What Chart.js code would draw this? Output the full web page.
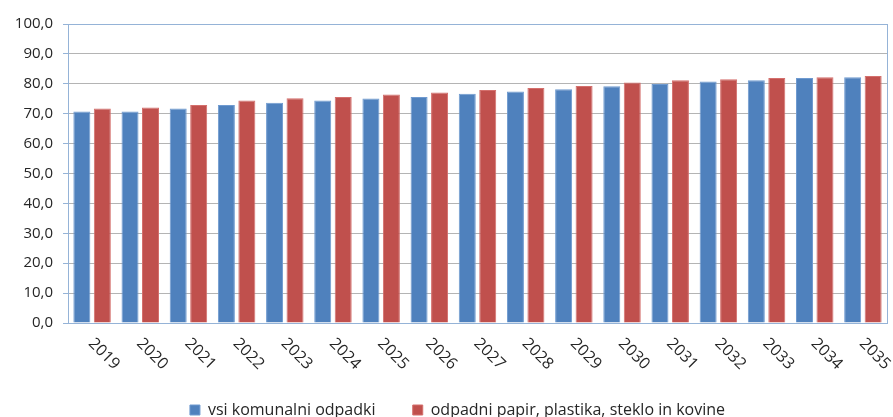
<!DOCTYPE html>
<html>
<head>
<meta charset="utf-8">
<script src="https://cdn.jsdelivr.net/npm/chart.js@4/dist/chart.umd.min.js"></script>
<style>
  html, body { margin: 0; padding: 0; background: #fff; }
  #wrap { width: 893px; height: 417px; }
</style>
</head>
<body>
<div id="wrap"><canvas id="wasteChart" width="893" height="417"></canvas></div>
<script>
const years = ['2019', '2020', '2021', '2022', '2023', '2024', '2025', '2026', '2027',
    '2028', '2029', '2030', '2031', '2032', '2033', '2034', '2035'];
const vsiKomunalni = [70.7, 70.7, 71.7, 72.9, 73.7, 74.4, 75.1, 75.6, 76.7,
    77.4, 78.2, 79.2, 79.9, 80.8, 81.2, 81.9, 82.2];
const papirPlastika = [71.7, 72.1, 72.9, 74.4, 75.2, 75.6, 76.4, 77.1, 77.9,
    78.6, 79.3, 80.4, 81.2, 81.5, 81.9, 82.2, 82.6];
const yTicks = [0, 10, 20, 30, 40, 50, 60, 70, 80, 90, 100];

const BLUE = '#4F81BD';
const RED = '#C0504D';
const FRAME = '#95B3D7';
const GRID = '#B4B4B4';
const FONT = "'Open Sans', sans-serif";

// x labels slant down to the right, which Chart.js can't do itself
const slantedLabels = {
    id: 'slantedLabels',
    afterLayout(chart) {
        // legend sits a little right of centre in the original
        chart.legend.left += 14;
        chart.legend.right += 14;
    },
    afterDraw(chart) {
        const ctx = chart.ctx;
        const xs = chart.scales.x;
        const area = chart.chartArea;
        ctx.save();
        ctx.font = '16px ' + FONT;
        ctx.fillStyle = '#262626';
        ctx.textAlign = 'left';
        ctx.textBaseline = 'middle';
        years.forEach((y, i) => {
            ctx.save();
            ctx.translate(xs.getPixelForTick(i) - 1, area.bottom + 18);
            ctx.rotate(Math.PI / 4);
            ctx.fillText(y, 0, 0);
            ctx.restore();
        });
        // light blue frame around the plot area
        ctx.strokeStyle = FRAME;
        ctx.lineWidth = 1;
        ctx.strokeRect(Math.round(area.left) + 0.5, Math.round(area.top) + 0.5,
            Math.round(area.right - area.left), Math.round(area.bottom - area.top));
        ctx.restore();
    }
};

const chartContext = document.getElementById('wasteChart').getContext('2d');
new Chart(chartContext, {
    type: 'bar',
    data: {
        labels: years,
        datasets: [
            {
                label: 'vsi komunalni odpadki',
                data: vsiKomunalni,
                backgroundColor: BLUE,
                borderColor: '#6F9AD0',
                borderWidth: 1,
                categoryPercentage: 0.85,
                barPercentage: 0.83
            },
            {
                label: 'odpadni papir, plastika, steklo in kovine',
                data: papirPlastika,
                backgroundColor: RED,
                borderColor: '#D46F6C',
                borderWidth: 1,
                categoryPercentage: 0.85,
                barPercentage: 0.83
            }
        ]
    },
    options: {
        responsive: false,
        animation: false,
        layout: { padding: { top: 24, right: 6, left: 0, bottom: -11 } },
        plugins: {
            tooltip: { enabled: false },
            legend: {
                position: 'bottom',
                labels: {
                    boxWidth: 10,
                    boxHeight: 10,
                    padding: 4,
                    color: '#262626',
                    font: { family: FONT, size: 16 },
                    generateLabels(chart) {
                        const items = Chart.defaults.plugins.legend.labels.generateLabels(chart);
                        items[0].text = items[0].text + '        ';
                        return items;
                    }
                }
            }
        },
        scales: {
            x: {
                grid: { display: false },
                border: { color: FRAME },
                ticks: { display: false },
                afterFit(scale) { scale.height = 75; }
            },
            y: {
                min: 0,
                max: 100,
                afterBuildTicks(scale) { scale.ticks = yTicks.map(v => ({ value: v })); },
                afterFit(scale) { scale.width = 68; },
                border: { color: FRAME },
                grid: {
                    color: ctx => (ctx.tick && (ctx.tick.value === 100 || ctx.tick.value === 0)) ? FRAME : GRID,
                    tickColor: FRAME,
                    tickLength: 5
                },
                ticks: {
                    padding: 10,
                    color: '#262626',
                    font: { family: FONT, size: 15 },
                    callback: v => v.toFixed(1).replace('.', ',')
                }
            }
        }
    },
    plugins: [slantedLabels]
});
</script>
</body>
</html>
